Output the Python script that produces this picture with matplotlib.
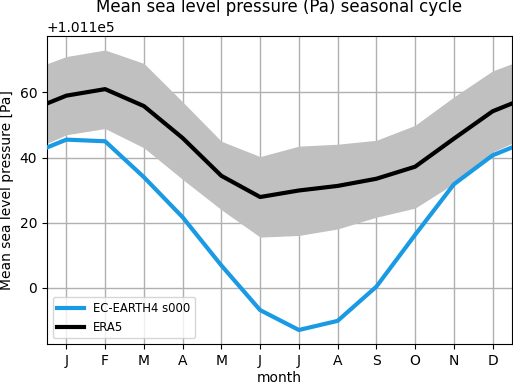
import numpy as np
import matplotlib
matplotlib.use("Agg")
import matplotlib.pyplot as plt

months = ["J", "F", "M", "A", "M", "J", "J", "A", "S", "O", "N", "D"]
base = 101100.0
ec_earth = [45.5, 45.0, 34.0, 21.7, 6.9, -6.8, -12.9, -10.1, 0.4, 16.3, 31.8, 40.7]
era5 = [59.0, 61.0, 55.8, 46.0, 34.4, 27.9, 29.9, 31.3, 33.5, 37.2, 45.8, 54.2]
era5_upper = [71.0, 73.0, 68.9, 57.1, 45.0, 40.3, 43.5, 44.1, 45.3, 49.9, 58.6, 66.6]
era5_lower = [47.0, 48.9, 43.0, 33.3, 24.0, 15.6, 16.1, 18.1, 21.7, 24.5, 32.0, 41.7]


def wrap(v):
    v = list(v)
    return np.array([v[-1]] + v + [v[0]]) + base


x = np.arange(0, 14)

fig = plt.figure(figsize=(5.13, 3.84), dpi=100)
ax = fig.add_axes([47 / 513, 40 / 384, (512 - 47) / 513, (344 - 36) / 384])

ax.fill_between(x, wrap(era5_lower), wrap(era5_upper), color="#c0c0c0", lw=0, zorder=1)
ax.plot(x, wrap(ec_earth), color="#1b9ae4", lw=3, label="EC-EARTH4 s000", zorder=3)
ax.plot(x, wrap(era5), color="black", lw=3, label="ERA5", zorder=3)

ax.set_xlim(0.5, 12.5)
ax.set_ylim(base - 17.2, base + 77.3)
ax.set_xticks(np.arange(1, 13))
ax.set_xticklabels(months)
ax.set_yticks(base + np.array([0, 20, 40, 60]))
fmt = matplotlib.ticker.ScalarFormatter(useOffset=base)
ax.yaxis.set_major_formatter(fmt)
ax.grid(True, color="#b0b0b0", lw=1, zorder=0)
ax.set_axisbelow(True)
ax.set_xlabel("month", labelpad=2)
ax.set_ylabel("Mean sea level pressure [Pa]")
ax.set_title("Mean sea level pressure (Pa) seasonal cycle")
ax.legend(loc="lower left", fontsize="small", handlelength=2.3)

fig.savefig("out.png", dpi=100)
